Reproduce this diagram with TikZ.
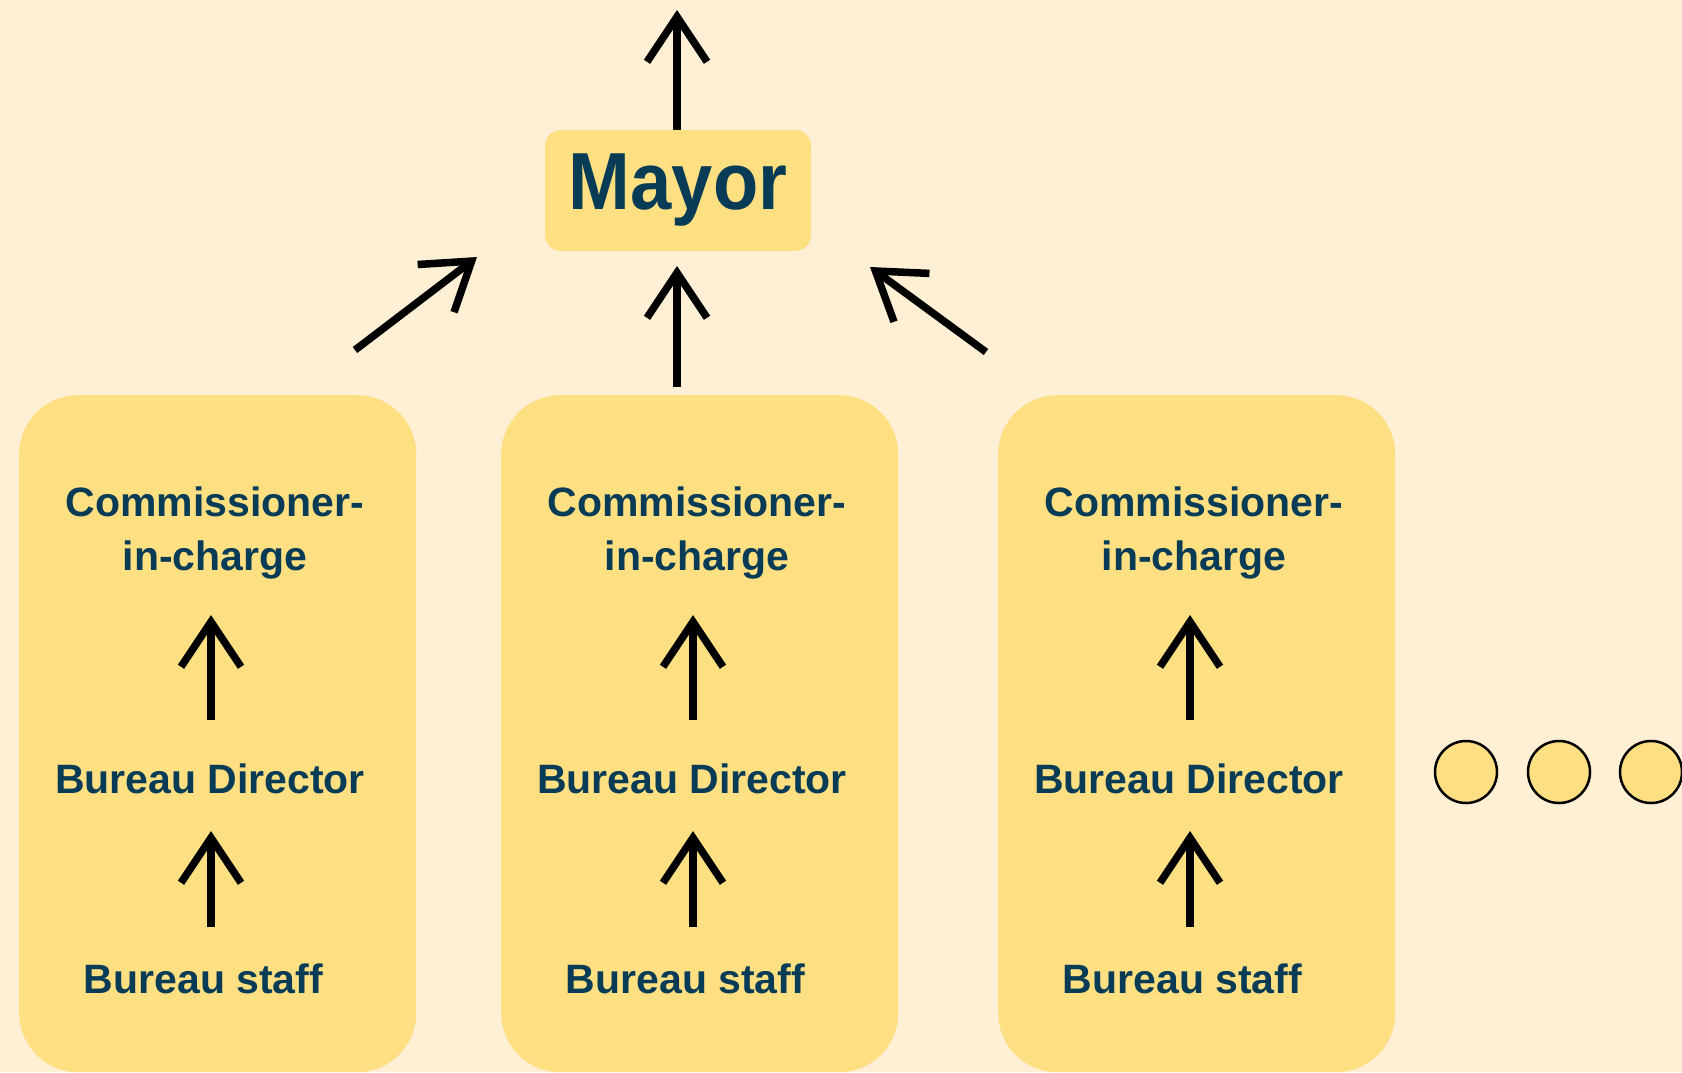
\documentclass[tikz,border=0pt]{standalone}
\usepackage{fontspec}
\setmainfont{Liberation Sans}
\usetikzlibrary{arrows.meta}
\definecolor{bg}{HTML}{FEEFD5}
\definecolor{boxy}{HTML}{FEDF82}
\definecolor{ink}{HTML}{073B56}
\begin{document}
\begin{tikzpicture}[x=1pt,y=-1pt,
  lbl/.style={font=\fontsize{41}{54}\selectfont\bfseries, text=ink, inner sep=0pt, anchor=base, align=center},
  arr/.style={line width=7.5pt, -{Straight Barb[length=45pt,width=60pt]}},
  panel/.style={fill=boxy, rounded corners=59pt, draw=none, minimum width=397pt, minimum height=677pt, anchor=north west, inner sep=0pt},
  dot/.style={circle, fill=boxy, draw=black, line width=2.5pt, minimum size=62pt, inner sep=0pt}]
\fill[bg] (0,0) rectangle (1682,1072);
\useasboundingbox (0,0) rectangle (1682,1072);

% Mayor
\node[fill=boxy, rounded corners=16pt, minimum width=266pt, minimum height=121pt, inner sep=0pt,
      font=\fontsize{81}{81}\selectfont\bfseries, text=ink] (mayor) at (678,190.5) {\scalebox{0.915}[1]{Mayor}};
\coordinate (top) at (677,10);
\draw[arr] (mayor.north -| top) -- (top);

% panels
\foreach \i/\dx in {1/0, 2/482, 3/979} {
  \begin{scope}[shift={(\dx,0)}]
    \node[panel] (b\i) at (19,395) {};
    \node[lbl] (comm\i) at (215,570) {Commissioner-\\in-charge};
    \node[lbl] (dir\i) at (210,793) {Bureau Director};
    \node[lbl] (staff\i) at (203.5,993) {Bureau staff};
    \coordinate (a\i s) at (211,927);
    \coordinate (a\i m) at (211,831);
    \coordinate (a\i n) at (211,720);
    \coordinate (a\i t) at (211,615);
    \draw[arr] (a\i s) -- (a\i m);
    \draw[arr] (a\i n) -- (a\i t);
  \end{scope}
}

% arrows into mayor
\coordinate (l0) at (355,350); \coordinate (l1) at (477,257);
\coordinate (m0) at (677,387); \coordinate (m1) at (677,266);
\coordinate (r0) at (986,352); \coordinate (r1) at (870,267);
\draw[arr] (l0) -- (l1);
\draw[arr] (m0) -- (m1);
\draw[arr] (r0) -- (r1);

% dots
\node[dot] (d1) at (1466,772) {};
\node[dot] (d2) at (1559,772) {};
\node[dot] (d3) at (1651,772) {};
\end{tikzpicture}
\end{document}
